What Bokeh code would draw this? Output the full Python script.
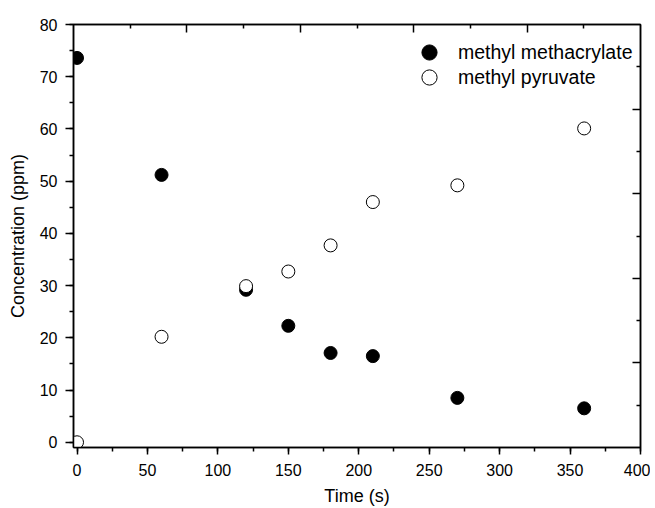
from bokeh.plotting import figure
from bokeh.models import (Range1d, LinearAxis, FixedTicker, SingleIntervalTicker,
                          Legend, LegendItem, CustomJSTickFormatter)
from bokeh.embed import file_html
from bokeh.resources import INLINE

# ---- data ----
time_s = [0, 60, 120, 150, 180, 210, 270, 360]
methyl_methacrylate = [73.6, 51.2, 29.2, 22.3, 17.1, 16.5, 8.5, 6.5]
methyl_pyruvate = [0.0, 20.2, 29.9, 32.7, 37.7, 46.0, 49.2, 60.1]
series_names = ["methyl methacrylate", "methyl pyruvate"]
x_label = "Time (s)"
y_label = "Concentration (ppm)"

FONT = "Liberation Sans"

p = figure(frame_width=567, frame_height=423,
           x_range=Range1d(-2.5, 400), y_range=Range1d(-1, 80),
           output_backend="svg", toolbar_location=None,
           min_border_left=73, min_border_top=24, min_border_right=10,
           min_border_bottom=5)
p.xgrid.visible = False
p.ygrid.visible = False
p.outline_line_color = "black"
p.outline_line_width = 1.5
p.background_fill_color = "white"

# main axes
for ax in (p.xaxis[0], p.yaxis[0]):
    ax.axis_line_width = 1.5
    ax.major_tick_line_width = 1.5
    ax.minor_tick_line_width = 1.5
    ax.major_tick_in = 0
    ax.major_tick_out = 7
    ax.minor_tick_in = 0
    ax.minor_tick_out = 4
    ax.major_label_text_font = FONT
    ax.major_label_text_font_size = "16px"
    ax.major_label_text_color = "black"
    ax.axis_label_text_font = FONT
    ax.axis_label_text_font_size = "18px"
    ax.axis_label_text_font_style = "normal"
    ax.axis_label_text_color = "black"

p.xaxis[0].ticker = SingleIntervalTicker(interval=50, num_minor_ticks=2)
p.yaxis[0].ticker = SingleIntervalTicker(interval=10, num_minor_ticks=2)
p.xaxis[0].axis_label = x_label
p.yaxis[0].axis_label = y_label
p.xaxis[0].major_label_standoff = 9
p.xaxis[0].axis_label_standoff = 7
p.yaxis[0].major_tick_out = 8
p.yaxis[0].major_label_standoff = 8
p.yaxis[0].axis_label_standoff = 9

# opposite (mirror) axes with inward ticks, no labels
p.extra_x_ranges = {"top": Range1d(0, 1)}
p.extra_y_ranges = {"right": Range1d(0, 1)}
mirror_ticker = FixedTicker(ticks=[0.2, 0.4, 0.6, 0.8],
                            minor_ticks=[0.1, 0.3, 0.5, 0.7, 0.9])
blank = CustomJSTickFormatter(code="return '';")
for name, loc in (("top", "above"), ("right", "right")):
    kw = {"x_range_name": name} if loc == "above" else {"y_range_name": name}
    ax = LinearAxis(ticker=mirror_ticker, formatter=blank,
                    major_tick_in=8, major_tick_out=0,
                    minor_tick_in=4, minor_tick_out=0,
                    axis_line_width=1.5, major_tick_line_width=1.5,
                    minor_tick_line_width=1.5,
                    major_label_standoff=0, **kw)
    p.add_layout(ax, loc)

r1 = p.scatter(time_s, methyl_methacrylate, size=13, marker="circle",
               fill_color="black", line_color="black", line_width=1)
r2 = p.scatter(time_s, methyl_pyruvate, size=13, marker="circle",
               fill_color="white", line_color="black", line_width=1)

# two single-item legends so the rows can sit close with large markers
legend_rows = [(r1, series_names[0], 376), (r2, series_names[1], 351)]
for rend, name, vy in legend_rows:
    lg = Legend(items=[LegendItem(label=name, renderers=[rend])],
                location=(337, vy), padding=0, margin=0, spacing=0,
                glyph_width=38, glyph_height=38, label_standoff=10,
                label_text_font=FONT, label_text_font_size="19.5px",
                label_text_color="black",
                border_line_color=None, background_fill_alpha=0)
    p.add_layout(lg, "center")

open("out.html", "w").write(file_html(p, INLINE))
